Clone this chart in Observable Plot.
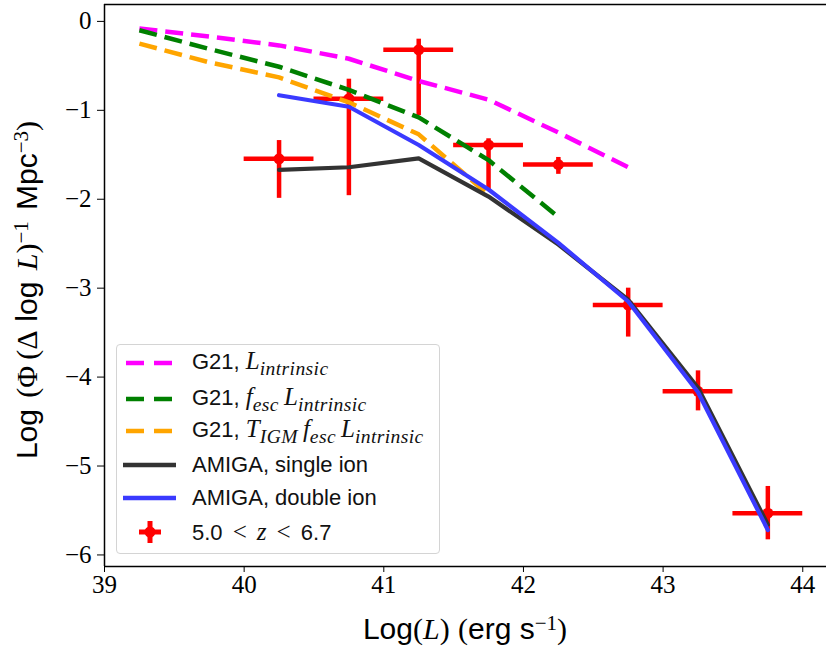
<!DOCTYPE html>
<html>
<head>
<meta charset="utf-8">
<script src="https://cdn.jsdelivr.net/npm/d3@7"></script>
<script src="https://cdn.jsdelivr.net/npm/@observablehq/plot@0.6"></script>
<style>
  body { margin: 0; background: #fff; }
  #wrap { position: relative; width: 826px; height: 652px; overflow: hidden; }
  #legend { position: absolute; left: 116px; top: 344px; width: 322px; height: 208px;
            border: 1px solid #d4d4d4; border-radius: 4px; background: rgba(255,255,255,0.8);
            font-family: "Liberation Sans", sans-serif; font-size: 22px; color: #111; }
  .row { position: absolute; left: 0; height: 30px; white-space: nowrap; }
  .row svg { position: absolute; left: 0; top: 0; }
  .row .txt { position: absolute; left: 75px; top: 50%; transform: translateY(-50%); line-height: 1; }
  .m { font-family: "Liberation Serif", serif; font-style: italic; font-size: 1.14em; }
  .m sub { font-size: 0.78em; vertical-align: -0.3em; letter-spacing: 0.02em; }
  .r { font-family: "Liberation Serif", serif; font-size: 1.14em; padding: 0 0.4em; }
</style>
</head>
<body>
<div id="wrap"><div id="chart"></div><div id="legend"></div></div>
<script>
// ---------------- data ----------------
const xTicks = [39, 40, 41, 42, 43, 44];
const yTicks = [0, -1, -2, -3, -4, -5, -6];

// observed LF, 5.0 < z < 6.7
const binCenters = [40.25, 40.75, 41.25, 41.75, 42.25, 42.75, 43.25, 43.75];
const obsPhi     = [-1.545, -0.87, -0.32, -1.39, -1.61, -3.19, -4.16, -5.53];
const obsHigh    = [-1.34, -0.65, -0.20, -1.32, -1.53, -3.00, -3.93, -5.23];
const obsLow     = [-1.99, -1.96, -1.06, -1.90, -1.72, -3.55, -4.38, -5.83];
const binHalfWidth = 0.25;

// G21 models
const g21X          = [39.25, 39.75, 40.25, 40.75, 41.25, 41.75, 42.25, 42.75];
const g21Intrinsic  = [-0.08, -0.17, -0.27, -0.42, -0.67, -0.88, -1.25, -1.64];
const g21Fesc       = [-0.10, -0.31, -0.51, -0.77, -1.08, -1.56, -2.20];
const g21TigmFesc   = [-0.25, -0.46, -0.63, -0.91, -1.27, -1.95];

// AMIGA models
const amigaX      = [40.25, 40.75, 41.25, 41.75, 42.25, 42.75, 43.25, 43.75];
const amigaSingle = [-1.67, -1.64, -1.54, -1.97, -2.51, -3.13, -4.12, -5.66];
const amigaDouble = [-0.83, -0.96, -1.39, -1.89, -2.49, -3.15, -4.17, -5.72];

// ---------------- build ----------------
const obs = binCenters.map((x, i) => ({x, y: obsPhi[i], lo: obsLow[i], hi: obsHigh[i]}));
const series = (xs, ys) => ys.map((y, i) => ({x: xs[i], y}));

const C = {magenta: "#ff00ff", green: "#008000", orange: "#ffa500",
           black: "#333333", blue: "#3a3aff", red: "#ff0000"};
const dash = "18,8";
const X0 = 39, X1 = 44.17, Y0 = -6.13, Y1 = 0.19;
const minus = d => d < 0 ? "\u2212" + Math.abs(d) : String(d);

const plot = Plot.plot({
  width: 826, height: 652,
  marginLeft: 104, marginRight: 0, marginTop: 4, marginBottom: 86,
  style: {fontFamily: "'Liberation Serif', serif", fontSize: "25px", color: "#000", background: "#fff", overflow: "visible"},
  x: {domain: [X0, X1]},
  y: {domain: [Y0, Y1]},
  marks: [
    Plot.ruleX(obs, {x: "x", y1: "lo", y2: "hi", stroke: C.red, strokeWidth: 4.5}),
    Plot.ruleY(obs, {y: "y", x1: d => d.x - binHalfWidth, x2: d => d.x + binHalfWidth, stroke: C.red, strokeWidth: 4.5}),
    Plot.dot(obs, {x: "x", y: "y", r: 5.5, fill: C.red, stroke: "none"}),
    Plot.line(series(g21X, g21Intrinsic), {x: "x", y: "y", stroke: C.magenta, strokeWidth: 4.5, strokeDasharray: dash, strokeLinecap: "butt"}),
    Plot.line(series(g21X, g21Fesc), {x: "x", y: "y", stroke: C.green, strokeWidth: 4.5, strokeDasharray: dash, strokeLinecap: "butt"}),
    Plot.line(series(g21X, g21TigmFesc), {x: "x", y: "y", stroke: C.orange, strokeWidth: 4.5, strokeDasharray: dash, strokeLinecap: "butt"}),
    Plot.line(series(amigaX, amigaSingle), {x: "x", y: "y", stroke: C.black, strokeWidth: 4.2}),
    Plot.line(series(amigaX, amigaDouble), {x: "x", y: "y", stroke: C.blue, strokeWidth: 4.2}),
    Plot.axisX({ticks: xTicks, tickFormat: d => String(d), tickSize: 6, tickPadding: 3, label: null, stroke: "#000"}),
    Plot.axisY({ticks: yTicks, tickFormat: minus, tickSize: 7, tickPadding: 6, label: null, stroke: "#000"}),
    Plot.ruleX([X0], {stroke: "#000", strokeWidth: 1.5}),
    Plot.ruleY([Y0, Y1], {stroke: "#000", strokeWidth: 1.5})
  ]
});
document.getElementById("chart").appendChild(plot);

// axis titles with super/subscripts
const svg = d3.select(plot);
const sans = "'Liberation Sans', sans-serif", serif = "'Liberation Serif', serif";
function addRich(g, parts) {
  const t = g.append("text").attr("fill", "#000");
  parts.forEach(p => {
    const ts = t.append("tspan").text(p.t)
      .attr("font-family", p.serif ? serif : sans)
      .attr("font-style", p.it ? "italic" : "normal");
    if (p.sup) ts.attr("font-size", "0.7em").attr("baseline-shift", "45%");
  });
  return t;
}
const xl = svg.append("g").attr("transform", "translate(465,639)").attr("font-size", 30);
addRich(xl, [{t: "Log"}, {t: "(", serif: 1}, {t: "L", serif: 1, it: 1}, {t: ")", serif: 1}, {t: " "},
             {t: "(", serif: 1}, {t: "erg s"}, {t: "\u22121", serif: 1, sup: 1}, {t: ")", serif: 1}])
  .attr("text-anchor", "middle");
const yl = svg.append("g").attr("transform", "translate(37,290) rotate(-90)").attr("font-size", 30);
addRich(yl, [{t: "Log "}, {t: "(\u03A6\u2009(\u0394 ", serif: 1}, {t: "log "}, {t: "L", serif: 1, it: 1}, {t: ")", serif: 1},
             {t: "\u22121", serif: 1, sup: 1}, {t: " Mpc"}, {t: "\u22123", serif: 1, sup: 1}, {t: ")", serif: 1}])
  .attr("text-anchor", "middle").attr("word-spacing", 3);

// legend
const legendRows = [
  {type: "dash", color: C.magenta, cy: 17.7, html: 'G21, <span class="m">L<sub>intrinsic</sub></span>'},
  {type: "dash", color: C.green, cy: 53.7, html: 'G21, <span class="m">f<sub>esc</sub>&#8201;L<sub>intrinsic</sub></span>'},
  {type: "dash", color: C.orange, cy: 85.5, html: 'G21, <span class="m">T<sub>IGM</sub>&#8201;f<sub>esc</sub>&#8201;L<sub>intrinsic</sub></span>'},
  {type: "solid", color: C.black, cy: 120, html: 'AMIGA, single ion'},
  {type: "solid", color: C.blue, cy: 153.3, html: 'AMIGA, double ion'},
  {type: "err", color: C.red, cy: 186.7, html: '5.0<span class="r">&lt;</span><span class="m">z</span><span class="r">&lt;</span>6.7'}
];
const leg = d3.select("#legend");
legendRows.forEach(r => {
  const row = leg.append("div").attr("class", "row").style("top", (r.cy - 15) + "px").style("width", "320px");
  const s = row.append("svg").attr("width", 70).attr("height", 30);
  if (r.type === "dash") {
    s.append("line").attr("x1", 9).attr("x2", 56).attr("y1", 15).attr("y2", 15)
      .attr("stroke", r.color).attr("stroke-width", 4.5).attr("stroke-dasharray", "18,10");
  } else if (r.type === "solid") {
    s.append("line").attr("x1", 6).attr("x2", 59).attr("y1", 15).attr("y2", 15)
      .attr("stroke", r.color).attr("stroke-width", 4.5);
  } else {
    s.append("line").attr("x1", 22).attr("x2", 44).attr("y1", 15).attr("y2", 15).attr("stroke", r.color).attr("stroke-width", 5);
    s.append("line").attr("x1", 33).attr("x2", 33).attr("y1", 4).attr("y2", 26).attr("stroke", r.color).attr("stroke-width", 5);
    s.append("circle").attr("cx", 33).attr("cy", 15).attr("r", 5.5).attr("fill", r.color);
  }
  row.append("span").attr("class", "txt").html(r.html);
});
</script>
</body>
</html>
